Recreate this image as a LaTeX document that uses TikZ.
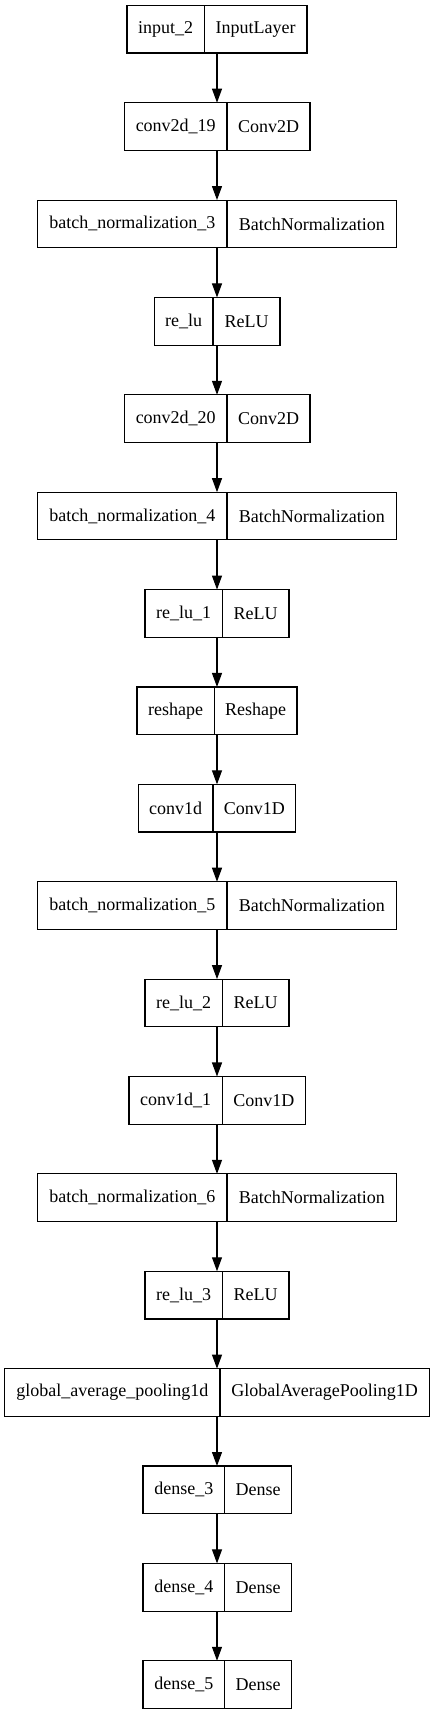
\documentclass[tikz,border=0pt]{standalone}
\usepackage{fontspec}
\setmainfont{Liberation Serif}
\usetikzlibrary{arrows.meta}
\tikzset{
  cell/.style={draw=black, line width=1.1pt, rectangle, inner sep=0pt, outer sep=0pt,
    minimum height=47.7pt, font=\fontsize{18}{20}\selectfont},
  arr/.style={draw=black, line width=1.1pt, -{Triangle[length=14pt,width=10pt]}}
}
% #1 name, #2 index, #3 left, #4 divider, #5 right, #6 left text, #7 right text
\newcommand\mylayer[7]{%
  \node[cell, anchor=north east, minimum width={(#4-#3)*1pt}] (#1L) at (#4, {5.3+97.38*#2}) {#6};
  \node[cell, anchor=north west, minimum width={(#5-#4)*1pt}] (#1R) at (#4, {5.3+97.38*#2}) {#7};
}
\begin{document}
\begin{tikzpicture}[x=1pt, y=-1pt]
\useasboundingbox (0,0) rectangle (435,1715);
\coordinate (axis) at (217,0);
\mylayer{n0}{0}{127}{204.3}{307}{input\_2}{InputLayer}
\mylayer{n1}{1}{124.5}{227}{310}{conv2d\_19}{Conv2D}
\mylayer{n2}{2}{37.7}{227}{396.7}{batch\_normalization\_3}{BatchNormalization}
\mylayer{n3}{3}{154.3}{213}{280}{re\_lu}{ReLU}
\mylayer{n4}{4}{124.5}{227}{310}{conv2d\_20}{Conv2D}
\mylayer{n5}{5}{37.7}{227}{396.7}{batch\_normalization\_4}{BatchNormalization}
\mylayer{n6}{6}{145}{222.3}{289}{re\_lu\_1}{ReLU}
\mylayer{n7}{7}{137}{214.3}{297}{reshape}{Reshape}
\mylayer{n8}{8}{138.3}{213}{295.7}{conv1d}{Conv1D}
\mylayer{n9}{9}{37.7}{227}{396.7}{batch\_normalization\_5}{BatchNormalization}
\mylayer{n10}{10}{145}{222.3}{289}{re\_lu\_2}{ReLU}
\mylayer{n11}{11}{129}{222.3}{305.3}{conv1d\_1}{Conv1D}
\mylayer{n12}{12}{37.7}{227}{396.7}{batch\_normalization\_6}{BatchNormalization}
\mylayer{n13}{13}{145}{222.3}{289}{re\_lu\_3}{ReLU}
\mylayer{n14}{14}{4.7}{220}{429.3}{global\_average\_pooling1d}{GlobalAveragePooling1D}
\mylayer{n15}{15}{143}{224.7}{291.3}{dense\_3}{Dense}
\mylayer{n16}{16}{143}{224.7}{291.3}{dense\_4}{Dense}
\mylayer{n17}{17}{143}{224.7}{291.3}{dense\_5}{Dense}
\foreach \a [evaluate=\a as \b using int(\a+1)] in {0,...,16} {
  \draw[arr] (n\a L.south -| axis) -- (n\b L.north -| axis);
}
\end{tikzpicture}
\end{document}
